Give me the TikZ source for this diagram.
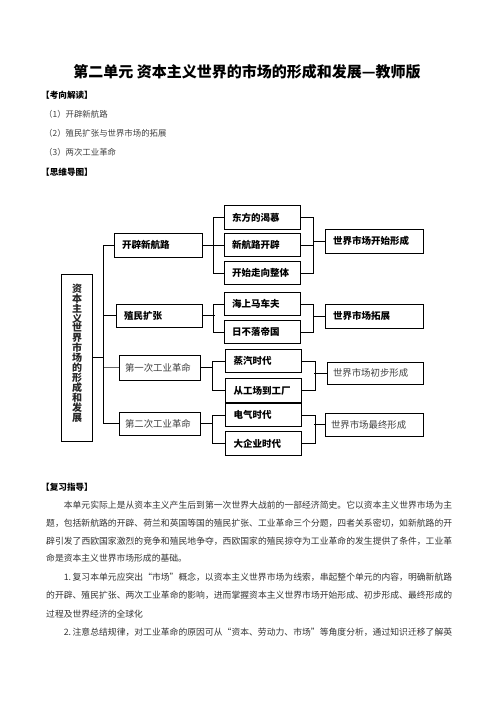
\documentclass[tikz,border=0pt]{standalone}
\usepackage{fontspec}
\setmainfont{Noto Sans CJK SC}
\XeTeXlinebreaklocale "zh"
\XeTeXlinebreakskip=0pt plus 1pt minus 0.3pt
\tikzset{
  box/.style={draw, line width=1pt, inner xsep=8pt, inner ysep=0pt, align=left,
    font=\fontsize{9.5}{10}\selectfont\bfseries},
  thinbox/.style={box, line width=.5pt, inner xsep=6pt, text=black!75,
    font=\fontsize{9.4}{10}\selectfont},
  subbox/.style={box, text width=60pt, minimum height=23.5pt},
  result/.style={box, text width=82pt, minimum height=24pt},
  line/.style={line width=.9pt},
  head/.style={anchor=west, inner sep=0pt, font=\fontsize{8.6}{10}\selectfont\bfseries},
  item/.style={anchor=west, inner sep=0pt, text=black!75, font=\fontsize{8.4}{10}\selectfont},
  body/.style={anchor=west, inner sep=0pt, text width=406pt, align=justify, text=black!80,
    font=\fontsize{8.8}{10}\selectfont},
  full/.style={body, execute at begin node={\parfillskip=0pt\relax}}
}
\begin{document}
\begin{tikzpicture}[x=1pt, y=-1pt]
  \useasboundingbox (0,0) rectangle (496,702);
  \fill[white] (0,0) rectangle (496,702);

  % title and headings
  \node[font=\fontsize{15}{18}\selectfont\bfseries] (title) at (247,72)
    {第二单元 资本主义世界的市场的形成和发展—教师版};
  \node[head] (kxjd) at (41,95) {【考向解读】};
  \foreach \n/\t/\y in {1/开辟新航路/114, 2/殖民扩张与世界市场的拓展/133, 3/两次工业革命/152}
    \node[item] (item\n) at (44,\y) {（\n）\t};
  \node[head] (swdt) at (41,172) {【思维导图】};

  % mind map
  \node[draw, line width=.6pt, minimum width=31pt, minimum height=167pt] (m) at (76.5,357.5) {};
  \node[align=center, text=black!85, font=\fontsize{10}{9.9}\selectfont\bfseries] (mt) at (77,353)
    {资\\本\\主\\义\\世\\界\\市\\场\\的\\形\\成\\和\\发\\展};

  \node[box, text width=72pt, minimum height=24pt] (c1) at (158,245) {开辟新航路};
  \node[box, text width=70pt, minimum height=23pt] (c2) at (159,315.5) {殖民扩张};
  \node[thinbox, text width=69pt, minimum height=25pt] (c3) at (159.5,367.5) {第一次工业革命};
  \node[thinbox, text width=69pt, minimum height=23pt] (c4) at (159.5,423.5) {第二次工业革命};

  \foreach \n/\t/\y in {b11/东方的渴慕/217.5, b12/新航路开辟/245, b13/开始走向整体/273,
                        b21/海上马车夫/304, b22/日不落帝国/332}
    \node[subbox] (\n) at (262,\y) {\t};
  \foreach \n/\t/\y in {b31/蒸汽时代/361, b32/从工场到工厂/390.5,
                        b41/电气时代/415, b42/大企业时代/443.5}
    \node[subbox] (\n) at (263.5,\y) {\t};

  \node[result] (r1) at (374,241) {世界市场开始形成};
  \node[result] (r2) at (374,316) {世界市场拓展};
  \node[thinbox, text width=84pt, minimum height=22pt] (r3) at (375,373) {世界市场初步形成};
  \node[thinbox, text width=86pt, minimum height=23pt] (r4) at (374,424.5) {世界市场最终形成};

  % trunk
  \draw[line] (m.east) -- ++(12,0);
  \draw[line] (c1.west) -- ++(-10,0) |- (c4.west);
  \draw[line] (c2.west) -- ++(-12,0);
  \draw[thin, black!60] (c3.west) -- ++(-15,0);

  % brackets
  \draw[line] (c1.east) -- (b12.west);
  \draw[line] (b11.west) -- ++(-10,0) |- (b13.west);
  \draw[line] (b11.east) -- ++(13,0) |- (b13.east);
  \draw[line] (b12.east) -- ++(13,0);
  \draw[line] (r1.west) -- ++(-12,0);

  \draw[line] (c2.east) -- ++(12,0);
  \draw[line] (b21.west) -- ++(-10,0) |- (b22.west);
  \draw[line] (b21.east) -- ++(13,0) |- (b22.east);
  \draw[line] (r2.west) -- ++(-12,0);

  \draw[line] (c3.east) -- ++(13,0);
  \draw[line] (b31.west) -- ++(-13,0) |- (b32.west);
  \draw[line] (b31.east) -- ++(13,0) |- (b32.east);
  \draw[line] (r3.west) -- ++(-13,0);

  \draw[line] (c4.east) -- ++(13,0);
  \draw[line] (b41.west) -- ++(-13,0) |- (b42.west);
  \draw[line] (b41.east) -- ++(13,0) |- (b42.east);
  \draw[line] (r4.west) -- ++(-11,0);

  % review guide
  \node[head] (fxzd) at (41,487.7) {【复习指导】};
  \node[full] (p1) at (46,505) {\hspace*{2em}本单元实际上是从资本主义产生后到第一次世界大战前的一部经济简史。它以资本主义世界市场为主};
  \node[full] (p2) at (46,523) {题，包括新航路的开辟、荷兰和英国等国的殖民扩张、工业革命三个分题，四者关系密切，如新航路的开};
  \node[full] (p3) at (46,541) {辟引发了西欧国家激烈的竞争和殖民地争夺，西欧国家的殖民掠夺为工业革命的发生提供了条件，工业革};
  \node[body] (p4) at (46,558.5) {命是资本主义世界市场形成的基础。};
  \node[full] (p5) at (46,577) {\hspace*{2em}1.\,复习本单元应突出“市场”概念，以资本主义世界市场为线索，串起整个单元的内容，明确新航路};
  \node[full] (p6) at (46,595.5) {的开辟、殖民扩张、两次工业革命的影响，进而掌握资本主义世界市场开始形成、初步形成、最终形成的};
  \node[body] (p7) at (46,614) {过程及世界经济的全球化};
  \node[full] (p8) at (46,632.7) {\hspace*{2em}2.\,注意总结规律，对工业革命的原因可从“资本、劳动力、市场”等角度分析，通过知识迁移了解英};
\end{tikzpicture}
\end{document}
